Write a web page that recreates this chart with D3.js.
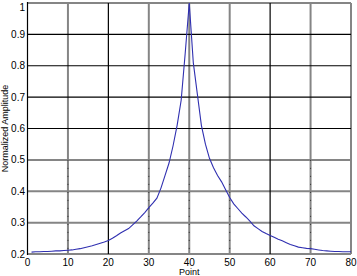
<!DOCTYPE html>
<html><head><meta charset="utf-8">
<script src="https://cdn.jsdelivr.net/npm/d3@7"></script>
<style>body{margin:0;background:#fff}svg{display:block}text{font-family:"Liberation Sans",Arial,sans-serif;fill:#000}</style>
</head><body><svg id="c" width="357" height="276"></svg>
<script>
const points = d3.range(1, 81);
const amplitude = [
 0.206,0.207,0.207,0.208,0.208,0.209,0.210,0.210,0.211,0.212,
 0.213,0.215,0.217,0.220,0.223,0.226,0.230,0.234,0.238,0.243,
 0.250,0.258,0.267,0.274,0.281,0.293,0.305,0.318,0.332,0.348,
 0.362,0.378,0.410,0.450,0.490,0.545,0.610,0.690,0.840,1.000,
 0.810,0.710,0.610,0.550,0.505,0.475,0.450,0.430,0.405,0.380,
 0.360,0.345,0.330,0.318,0.305,0.290,0.281,0.272,0.265,0.259,
 0.253,0.247,0.242,0.236,0.230,0.226,0.222,0.220,0.218,0.217,
 0.215,0.213,0.211,0.210,0.209,0.208,0.208,0.207,0.207,0.207];
const xTicks = [0,10,20,30,40,50,60,70,80];
const yTicks = [0.2,0.3,0.4,0.5,0.6,0.7,0.8,0.9,1];
const blackX = [20,60];
const blackY = [0.6,0.7,0.8,0.9];

const svg = d3.select("#c");
const L=27.5,R=351,T=3,B=254;
const x = d3.scaleLinear().domain([0,80]).range([L,R]);
const y = d3.scaleLinear().domain([0.2,1]).range([B,T]);

const g = svg.append("g");
xTicks.filter(v=>!blackX.includes(v)&&v!==0).forEach(v=>{
  g.append("line").attr("x1",x(v)).attr("x2",x(v)).attr("y1",T).attr("y2",B).attr("stroke","#858585").attr("stroke-width",2);
});
yTicks.filter(v=>!blackY.includes(v)).forEach(v=>{
  g.append("line").attr("x1",L).attr("x2",R).attr("y1",y(v)).attr("y2",y(v)).attr("stroke","#858585").attr("stroke-width",2);
});
xTicks.filter(v=>!blackX.includes(v)&&v!==0&&v!==80).forEach(v=>{
  g.append("line").attr("x1",x(v)).attr("x2",x(v)).attr("y1",y(0.5)).attr("y2",B).attr("stroke","#333").attr("stroke-width",1).attr("stroke-dasharray","1,7");
});
blackX.forEach(v=>{
  g.append("line").attr("x1",x(v)).attr("x2",x(v)).attr("y1",T).attr("y2",B).attr("stroke","#000").attr("stroke-width",1.2);
});
blackY.forEach(v=>{
  g.append("line").attr("x1",L).attr("x2",R).attr("y1",y(v)).attr("y2",y(v)).attr("stroke","#000").attr("stroke-width",1.2);
});
g.append("line").attr("x1",L).attr("x2",L).attr("y1",T-1).attr("y2",B+1).attr("stroke","#000").attr("stroke-width",1.2);

const line = d3.line().x((d,i)=>x(points[i])).y(d=>y(d));
svg.append("path").datum(amplitude).attr("d",line).attr("fill","none").attr("stroke","#2f2fb0").attr("stroke-width",1.1);

xTicks.forEach(v=>{
  svg.append("text").attr("x",x(v)).attr("y",266).attr("text-anchor","middle").attr("font-size",10).text(v);
});
yTicks.forEach(v=>{
  const yy = v===1 ? 10.5 : y(v)+3.5;
  svg.append("text").attr("x",25).attr("y",yy).attr("text-anchor","end").attr("font-size",10).text(v===1?"1":v.toFixed(1));
});
svg.append("text").attr("x",(L+R)/2).attr("y",275).attr("text-anchor","middle").attr("font-size",9).text("Point");
svg.append("text").attr("transform",`translate(8,${(T+B)/2}) rotate(-90)`).attr("text-anchor","middle").attr("font-size",9).text("Normalized Amplitude");
</script></body></html>
